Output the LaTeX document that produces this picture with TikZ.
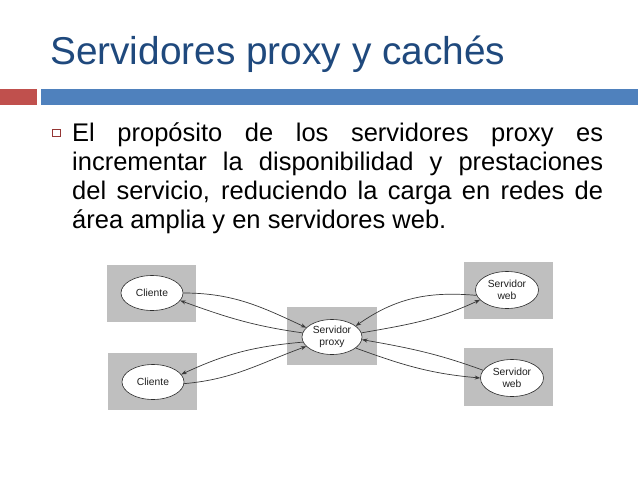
\documentclass[tikz,border=0pt]{standalone}
\usepackage{fontspec}
\setmainfont{Liberation Sans}
\usepackage{tikz}
\usetikzlibrary{positioning, arrows.meta, shapes.geometric, calc}

\definecolor{titleblue}{HTML}{1F497D}
\definecolor{barred}{HTML}{C0504D}
\definecolor{barblue}{HTML}{4F81BD}
\definecolor{bulletred}{HTML}{953735}

\begin{document}
\begin{tikzpicture}[
    x=1pt, y=-1pt,
    >={Stealth[length=5.5pt, width=4pt]},
    panelstyle/.style={draw=none, fill=gray!50, minimum width=89pt, minimum height=57pt, inner sep=0pt},
    hoststyle/.style={ellipse, draw=gray!35!black, fill=white, line width=0.6pt,
        minimum width=62pt, minimum height=35pt, inner sep=0pt, align=center,
        text=gray!25!black, font=\fontsize{10.3}{12.5}\selectfont},
    flow/.style={->, draw=gray!45!black, line width=0.7pt}
  ]
    \useasboundingbox[fill=white] (0,0) rectangle (638,479);
    % title and bars
    \node[anchor=base west, inner sep=0pt, text=titleblue,
        font=\fontsize{38.8}{40}\selectfont] (title) at (50,64) {Servidores proxy y cachés};
    \node[fill=barred, minimum width=37pt, minimum height=16pt, inner sep=0pt, anchor=north west] (redbar) at (0,89) {};
    \node[fill=barblue, minimum width=597pt, minimum height=16pt, inner sep=0pt, anchor=north west] (bluebar) at (41,89) {};
    % bullet and paragraph
    \node[draw=bulletred, line width=0.6pt, minimum size=7.5pt, inner sep=0pt] (bullet) at (56.5,133) {};
    \node[anchor=base west, inner sep=0pt, text width=531pt, align=justify,
        font=\fontsize{25.5}{29}\selectfont] (para) at (72,141)
        {El propósito de los servidores proxy es\linebreak
         incrementar la disponibilidad y prestaciones\linebreak
         del servicio, reduciendo la carga en redes de\linebreak
         área amplia y en servidores web.};
    % grey panels
    \node[panelstyle] (panA) at (151.5,293.5) {};
    \node[panelstyle] (panB) at (152.5,381.5) {};
    \node[panelstyle, minimum width=90pt, minimum height=58pt] (panP) at (332,336) {};
    \node[panelstyle] (panC) at (508.5,290.5) {};
    \node[panelstyle, minimum height=58pt] (panD) at (508.5,377) {};
    % hosts
    \node[hoststyle] (cliA) at (152,293) {Cliente};
    \node[hoststyle] (cliB) at (153,382) {Cliente};
    \node[hoststyle, minimum width=60pt] (proxy) at (332,337) {Servidor\\proxy};
    \node[hoststyle, minimum width=63pt, minimum height=37pt] (webA) at (507,290) {Servidor\\web};
    \node[hoststyle, minimum width=63pt, minimum height=37pt] (webB) at (512,378) {Servidor\\web};
    % client <-> proxy
    \draw[flow] (cliA.east) to[out=0, in=155] (proxy.160);
    \draw[flow] (proxy.172) to[out=172, in=-20] (cliA.-15);
    \draw[flow] (proxy.190) to[out=185, in=25] (cliB.15);
    \draw[flow] (cliB.-3) to[out=5, in=200] (proxy.200);
    % proxy <-> web servers
    \draw[flow] (webA.190) to[out=175, in=35] (proxy.25);
    \draw[flow] (proxy.8) to[out=10, in=205] (webA.200);
    \draw[flow] (webB.165) to[out=160, in=-10] (proxy.-5);
    \draw[flow] (proxy.-25) to[out=-20, in=175] (webB.west);
  \end{tikzpicture}
\end{document}
